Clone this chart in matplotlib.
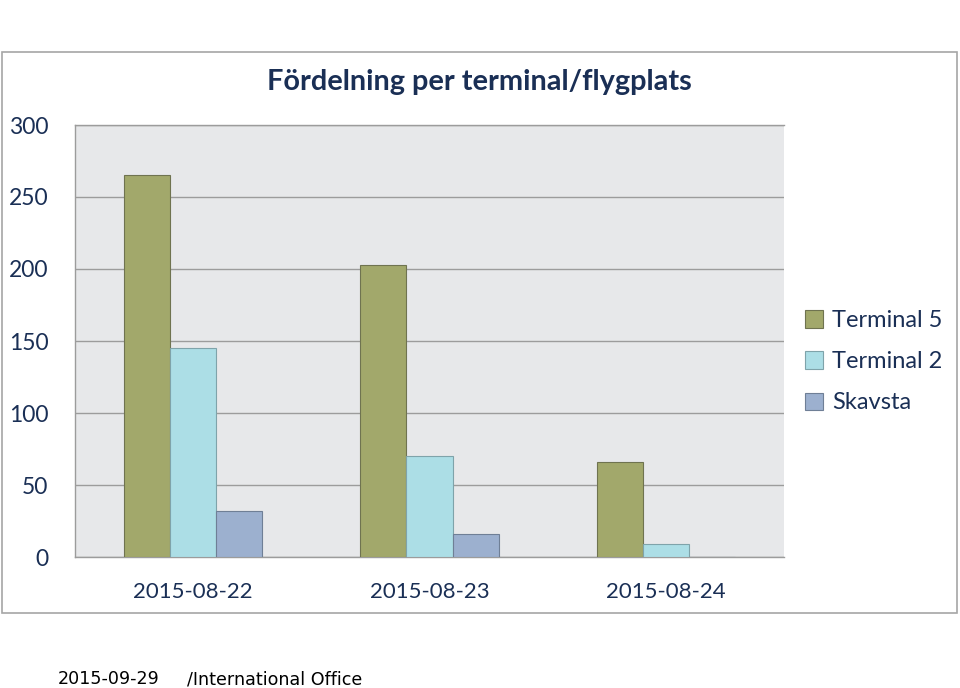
import matplotlib.pyplot as plt
from matplotlib.patches import Rectangle
import numpy as np

dates = ['2015-08-22', '2015-08-23', '2015-08-24']
terminal5 = [265, 203, 66]
terminal2 = [145, 70, 9]
skavsta = [32, 16, 0]

navy = '#1a2f55'
font = 'Lato'

fig = plt.figure(figsize=(9.6, 6.88), dpi=100)

# white framed box behind the chart
fig.patches.append(Rectangle((2 / 960, 75 / 688), 955 / 960, 561 / 688, transform=fig.transFigure,
                             facecolor='white', edgecolor='#a6a6a6', linewidth=1.2, zorder=-1))

ax = fig.add_axes([75 / 960, 131 / 688, 709 / 960, 432 / 688])
ax.set_zorder(2)
ax.set_facecolor('#e7e8ea')

x = np.arange(len(dates))
w = 0.195
ax.bar(x - w, terminal5, w, color='#a2a86b', edgecolor='#6f7350', linewidth=0.8, label='Terminal 5', zorder=3)
ax.bar(x, terminal2, w, color='#acdee6', edgecolor='#7fa3aa', linewidth=0.8, label='Terminal 2', zorder=3)
ax.bar(x + w, skavsta, w, color='#9cb0cf', edgecolor='#6f7f96', linewidth=0.8, label='Skavsta', zorder=3)

ax.set_xlim(-0.5, 2.5)
ax.set_ylim(0, 300)
ax.set_yticks(range(0, 301, 50))
ax.yaxis.grid(True, color='#9c9c9c', linewidth=1.0, zorder=1)
ax.set_axisbelow(True)
ax.spines['right'].set_visible(False)
for s in ['left', 'bottom', 'top']:
    ax.spines[s].set_color('#9c9c9c')
    ax.spines[s].set_linewidth(1.0)

ax.set_xticks(x)
ax.set_xticklabels(dates)
ax.tick_params(axis='y', length=0, pad=19, labelsize=16.5, labelcolor=navy)
ax.tick_params(axis='x', length=0, pad=18, labelsize=16, labelcolor=navy)
for lbl in ax.get_xticklabels() + ax.get_yticklabels():
    lbl.set_fontfamily(font)

fig.text(479 / 960, 1 - 82 / 688, 'Fördelning per terminal/flygplats', ha='center', va='center',
         fontsize=20.8, fontweight='bold', color=navy, family=font)

leg = fig.legend(loc='upper left', bbox_to_anchor=(784 / 960, 1 - 289 / 688), frameon=False,
                 prop={'family': font, 'size': 17}, handlelength=0.75, handleheight=0.75,
                 handletextpad=0.4, labelspacing=0.85)
leg.set_zorder(3)
for t in leg.get_texts():
    t.set_color(navy)

fig.text(58 / 960, 1 - 679 / 688, '2015-09-29', ha='left', va='center', fontsize=12.6,
         family='DejaVu Sans', color='black')
fig.text(187 / 960, 1 - 679 / 688, '/International Office', ha='left', va='center', fontsize=12.6,
         family='DejaVu Sans', color='black')

fig.savefig('out.png', dpi=100)
